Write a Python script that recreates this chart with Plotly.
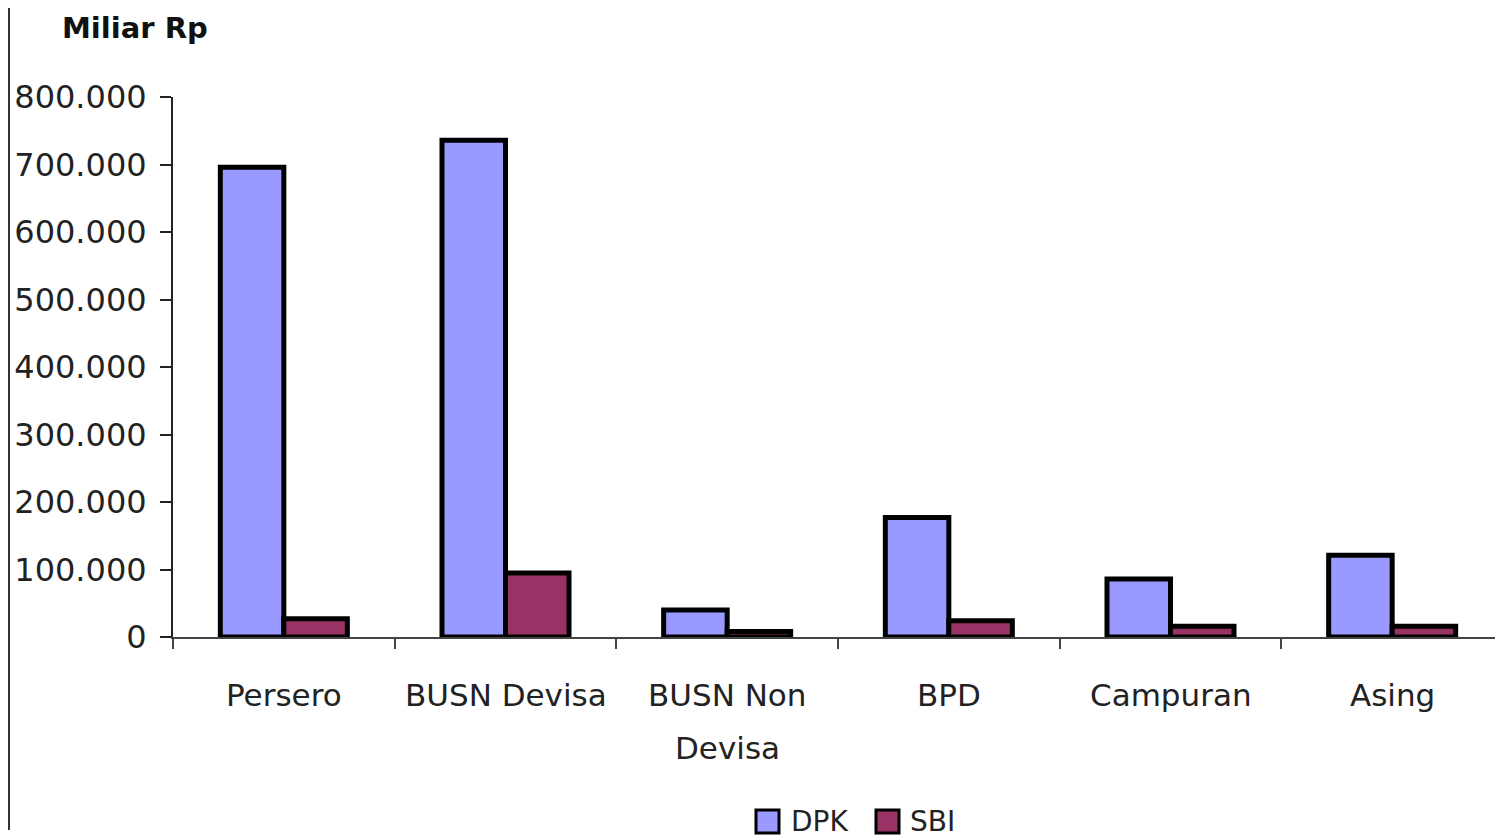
import plotly.graph_objects as go

categories = ["Persero", "BUSN Devisa", "BUSN Non<br>Devisa", "BPD", "Campuran", "Asing"]
series_names = ["DPK", "SBI"]
series_colors = ["#9999FF", "#993366"]
dpk = [696000, 736000, 40000, 177000, 86000, 121000]
sbi = [27000, 95000, 8000, 24000, 16000, 16000]
y_ticks = [0, 100000, 200000, 300000, 400000, 500000, 600000, 700000, 800000]
y_tick_labels = ["0", "100.000", "200.000", "300.000", "400.000", "500.000", "600.000", "700.000", "800.000"]

FONT = "DejaVu Sans"
OFF = 8  # page body margin
W, H = 1503, 837
# plot area in screen pixels: x 173..1503, y 97..637
ML, MR, MT = 173 - OFF, OFF, 97 - OFF
MB = H - (637 - OFF)
PH = H - MT - MB
PW = W - ML - MR

def px_x(x):
    return (x - OFF - ML) / PW

def px_y(y):
    return (H - MB - (y - OFF)) / PH

fig = go.Figure()
for name, color, vals in zip(series_names, series_colors, [dpk, sbi]):
    fig.add_trace(go.Bar(name=name, x=categories, y=vals, showlegend=False,
                         marker=dict(color=color, line=dict(color="black", width=5))))

annotations = [dict(text="<b>Miliar Rp</b>", xref="paper", yref="paper",
                    x=px_x(60), y=px_y(28), xanchor="left", yanchor="middle",
                    showarrow=False, font=dict(family=FONT, size=29, color="#111"))]
for c in categories:
    for i, ln in enumerate(c.split("<br>")):
        annotations.append(dict(text=ln, xref="x", yref="paper", x=c,
                                y=px_y(695 + 53 * i), xanchor="center", yanchor="middle",
                                showarrow=False, font=dict(family=FONT, size=31, color="#222")))

shapes = [dict(type="line", xref="paper", yref="paper",
               x0=px_x(OFF + 1), x1=px_x(OFF + 1), y0=px_y(830), y1=px_y(OFF),
               line=dict(color="#333", width=2))]

# manual legend
legend_sq_x = [756, 876]
legend_txt_x = [789, 908]
for name, color, sx, tx in zip(series_names, series_colors, legend_sq_x, legend_txt_x):
    shapes.append(dict(type="rect", xref="paper", yref="paper",
                       x0=px_x(sx), x1=px_x(sx + 23), y0=px_y(833), y1=px_y(810),
                       fillcolor=color, line=dict(color="black", width=3)))
    annotations.append(dict(text=name, xref="paper", yref="paper", x=px_x(tx), y=px_y(821),
                            xanchor="left", yanchor="middle", showarrow=False,
                            font=dict(family=FONT, size=28, color="#222")))

fig.update_layout(
    width=W, height=H,
    margin=dict(l=ML, r=MR, t=MT, b=MB, autoexpand=False),
    paper_bgcolor="white", plot_bgcolor="white",
    barmode="group", bargap=0.427, bargroupgap=0,
    showlegend=False,
    annotations=annotations,
    shapes=shapes,
    font=dict(family=FONT),
)
fig.update_xaxes(type="category", showline=True, linecolor="#444", linewidth=2,
                 ticks="outside", tickson="boundaries", ticklen=10, tickwidth=2, tickcolor="#444",
                 showticklabels=False, showgrid=False, zeroline=False, automargin=False)
fig.update_yaxes(range=[0, 800000], tickvals=y_ticks, ticktext=y_tick_labels,
                 showline=True, linecolor="#222", linewidth=2,
                 ticks="outside", ticklen=11, tickwidth=2, tickcolor="#222",
                 ticklabelstandoff=7, automargin=False,
                 tickfont=dict(family=FONT, size=32, color="#222"),
                 showgrid=False, zeroline=False)

fig.write_html("out.html")
